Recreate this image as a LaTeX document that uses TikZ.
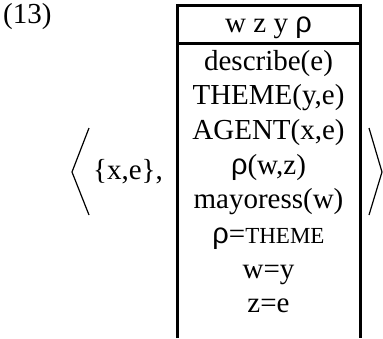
\documentclass[tikz,border=0pt]{standalone}
\usepackage{fontspec}
\setmainfont{Liberation Serif}
\newfontfamily\greekfont{Liberation Sans}
\newcommand{\rhovar}{{\greekfont ρ}}
\newcommand{\smcap}[1]{{\fontsize{23}{23}\selectfont #1}}

\begin{document}
\begin{tikzpicture}[x=1pt,y=-1pt,
    cond/.style={font=\fontsize{29}{34}\selectfont,inner sep=0pt,anchor=base},
    boxline/.style={line width=3pt},
    angleline/.style={line width=1.2pt}]
    \useasboundingbox (0,0) rectangle (383,338);

    % Nummer
    \node[cond,anchor=base west] (num) at (3,23) {(13)};

    % Box
    \coordinate (bl) at (177,338);
    \coordinate (tl) at (177,5);
    \coordinate (tr) at (360,5);
    \coordinate (br) at (360,338);
    \coordinate (hl) at (177,43);
    \coordinate (hr) at (360,43);
    \draw[boxline] (bl) -- (tl) -- (tr) -- (br);
    \draw[boxline] (hl) -- (hr);

    % Universum
    \node[cond] (univ) at (268.5,32) {w z y \rhovar};

    % Bedingungen
    \node[cond] (c1) at (268.5,70) {describe(e)};
    \node[cond] (c2) at (268.5,104.7) {THEME(y,e)};
    \node[cond] (c3) at (268.5,139.4) {AGENT(x,e)};
    \node[cond] (c4) at (268.5,174.1) {\rhovar(w,z)};
    \node[cond] (c5) at (268.5,208.8) {mayoress(w)};
    \node[cond] (c6) at (268.5,243.5) {\rhovar=\smcap{THEME}};
    \node[cond] (c7) at (268.5,278.2) {w=y};
    \node[cond] (c8) at (268.5,312.9) {z=e};

    % Referenten
    \node[cond,anchor=base west] (refs) at (93,179) {\{x,e\},};

    % Winkelklammern
    \coordinate (la1) at (89,128);
    \coordinate (la2) at (72,172);
    \coordinate (la3) at (89,215);
    \coordinate (ra1) at (369,128);
    \coordinate (ra2) at (382,172);
    \coordinate (ra3) at (369,215);
    \draw[angleline] (la1) -- (la2) -- (la3);
    \draw[angleline] (ra1) -- (ra2) -- (ra3);
\end{tikzpicture}
\end{document}
